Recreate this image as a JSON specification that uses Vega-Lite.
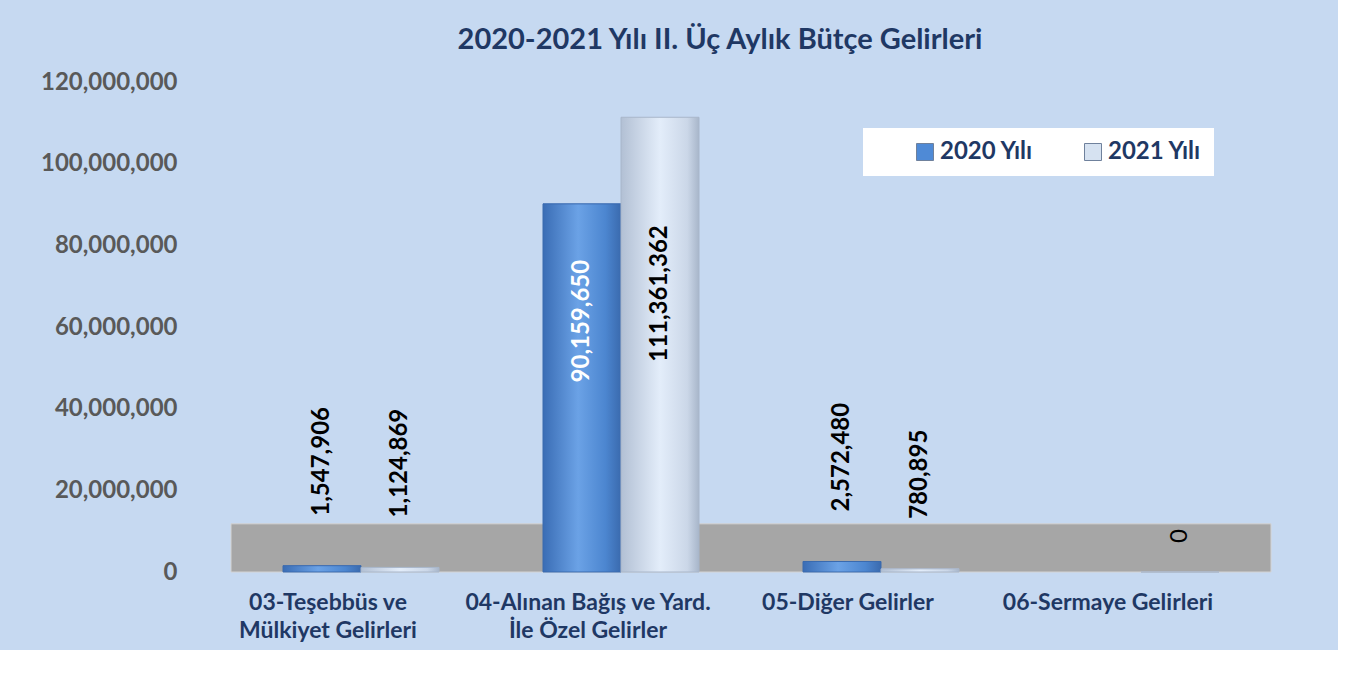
{
  "$schema": "https://vega.github.io/schema/vega-lite/v6.json",
  "width": 1040,
  "height": 490,
  "autosize": {"type": "none"},
  "padding": {"left": 231, "top": 82, "right": 67, "bottom": 78},
  "background": "#C6D9F1",
  "config": {"view": {"stroke": null}, "font": "Lato"},
  "title": {
    "text": "2020-2021 Yılı II. Üç Aylık Bütçe Gelirleri",
    "font": "Lato",
    "fontSize": 29,
    "fontWeight": "bold",
    "color": "#1F3864",
    "anchor": "middle",
    "dx": -31,
    "offset": 15
  },
  "datasets": {
    "gelirler": [
      {"kategori": "03-Teşebbüs ve Mülkiyet Gelirleri", "yil": "2020 Yılı", "tutar": 1547906},
      {"kategori": "03-Teşebbüs ve Mülkiyet Gelirleri", "yil": "2021 Yılı", "tutar": 1124869},
      {"kategori": "04-Alınan Bağış ve Yard. İle Özel Gelirler", "yil": "2020 Yılı", "tutar": 90159650},
      {"kategori": "04-Alınan Bağış ve Yard. İle Özel Gelirler", "yil": "2021 Yılı", "tutar": 111361362},
      {"kategori": "05-Diğer Gelirler", "yil": "2020 Yılı", "tutar": 2572480},
      {"kategori": "05-Diğer Gelirler", "yil": "2021 Yılı", "tutar": 780895},
      {"kategori": "06-Sermaye Gelirleri", "yil": "2021 Yılı", "tutar": 0}
    ],
    "zemin": [{"alt": 0, "ust": 11800000}]
  },
  "layer": [
    {
      "data": {"name": "zemin"},
      "mark": {"type": "rect", "fill": "#A6A6A6", "stroke": "#D4D4D4", "strokeWidth": 1},
      "encoding": {
        "y": {"field": "alt", "type": "quantitative", "scale": {"domain": [0, 120000000]}},
        "y2": {"field": "ust"}
      }
    },
    {
      "data": {"name": "gelirler"},
      "encoding": {
        "x": {
          "field": "kategori",
          "type": "nominal",
          "sort": null,
          "scale": {"paddingInner": 0.4, "paddingOuter": 0.2},
          "axis": {
            "title": null,
            "labelAngle": 0,
            "domain": false,
            "ticks": false,
            "labelFont": "Lato",
            "labelFontSize": 23,
            "labelFontWeight": "bold",
            "labelColor": "#1F3864",
            "labelOffset": -33,
            "labelPadding": 19,
            "labelLineHeight": 28,
            "labelLimit": 500,
            "labelExpr": "datum.label == '03-Teşebbüs ve Mülkiyet Gelirleri' ? ['03-Teşebbüs ve', 'Mülkiyet Gelirleri'] : datum.label == '04-Alınan Bağış ve Yard. İle Özel Gelirler' ? ['04-Alınan Bağış ve Yard.', 'İle Özel Gelirler'] : datum.label"
          }
        },
        "xOffset": {"field": "yil", "type": "nominal", "sort": ["2020 Yılı", "2021 Yılı"]},
        "y": {
          "field": "tutar",
          "type": "quantitative",
          "scale": {"domain": [0, 120000000]},
          "axis": {
            "title": null,
            "domain": false,
            "ticks": false,
            "grid": false,
            "values": [0, 20000000, 40000000, 60000000, 80000000, 100000000, 120000000],
            "format": ",d",
            "labelFont": "Lato",
            "labelFontSize": 24,
            "labelFontWeight": "bold",
            "labelColor": "#595959",
            "labelPadding": 54
          }
        }
      },
      "layer": [
        {
          "mark": {"type": "bar"},
          "encoding": {
            "color": {
              "field": "yil",
              "type": "nominal",
              "scale": {"domain": ["2020 Yılı", "2021 Yılı"], "range": ["#4F8AD6", "#D6E2F1"]},
              "legend": {
                "title": null,
                "orient": "none",
                "legendX": 632,
                "legendY": 46,
                "direction": "horizontal",
                "columns": 2,
                "columnPadding": 9,
                "padding": 12,
                "fillColor": "#FFFFFF",
                "labelFont": "Lato",
                "labelFontSize": 24,
                "labelFontWeight": "bold",
                "labelColor": "#1F3864",
                "symbolOffset": 38,
                "labelOffset": 3,
                "symbolType": "square",
                "symbolSize": 289,
                "symbolStrokeColor": "#6F819C",
                "symbolStrokeWidth": 1
              }
            }
          }
        },
        {
          "mark": {"type": "bar", "strokeWidth": 1},
          "encoding": {
            "fill": {
              "condition": {
                "test": "datum.yil == '2020 Yılı'",
                "value": {"gradient": "linear", "x1": 0, "x2": 1, "y1": 0, "y2": 0, "stops": [
                  {"offset": 0, "color": "#3A6DB5"},
                  {"offset": 0.45, "color": "#6BA2E6"},
                  {"offset": 0.8, "color": "#4C86D0"},
                  {"offset": 1, "color": "#3A6AAE"}
                ]}
              },
              "value": {"gradient": "linear", "x1": 0, "x2": 1, "y1": 0, "y2": 0, "stops": [
                {"offset": 0, "color": "#B2C0D4"},
                {"offset": 0.5, "color": "#E3EDFA"},
                {"offset": 0.85, "color": "#CBD7E8"},
                {"offset": 1, "color": "#A8B6CA"}
              ]}
            },
            "stroke": {
              "condition": {"test": "datum.yil == '2020 Yılı'", "value": "#3A6AAE"},
              "value": "#A8B6CA"
            }
          }
        },
        {
          "transform": [{"filter": "datum.tutar > 0 && datum.tutar < 50000000"}],
          "mark": {"type": "text", "angle": 270, "align": "left", "baseline": "middle", "dx": 50, "font": "Lato", "fontSize": 24, "fontWeight": "bold", "color": "#000000"},
          "encoding": {"text": {"field": "tutar", "type": "quantitative", "format": ",d"}}
        },
        {
          "transform": [{"filter": "datum.tutar >= 50000000 && datum.yil == '2020 Yılı'"}],
          "mark": {"type": "text", "angle": 270, "align": "right", "baseline": "middle", "dx": -56, "font": "Lato", "fontSize": 24, "fontWeight": "bold", "color": "#FFFFFF"},
          "encoding": {"text": {"field": "tutar", "type": "quantitative", "format": ",d"}}
        },
        {
          "transform": [{"filter": "datum.tutar >= 50000000 && datum.yil == '2021 Yılı'"}],
          "mark": {"type": "text", "angle": 270, "align": "right", "baseline": "middle", "dx": -108, "font": "Lato", "fontSize": 24, "fontWeight": "bold", "color": "#000000"},
          "encoding": {"text": {"field": "tutar", "type": "quantitative", "format": ",d"}}
        },
        {
          "transform": [{"filter": "datum.tutar == 0"}],
          "mark": {"type": "text", "angle": 270, "align": "center", "baseline": "middle", "dx": 36, "font": "Lato", "fontSize": 24, "fontWeight": "normal", "color": "#000000"},
          "encoding": {"text": {"field": "tutar", "type": "quantitative", "format": ",d"}}
        }
      ]
    }
  ]
}
